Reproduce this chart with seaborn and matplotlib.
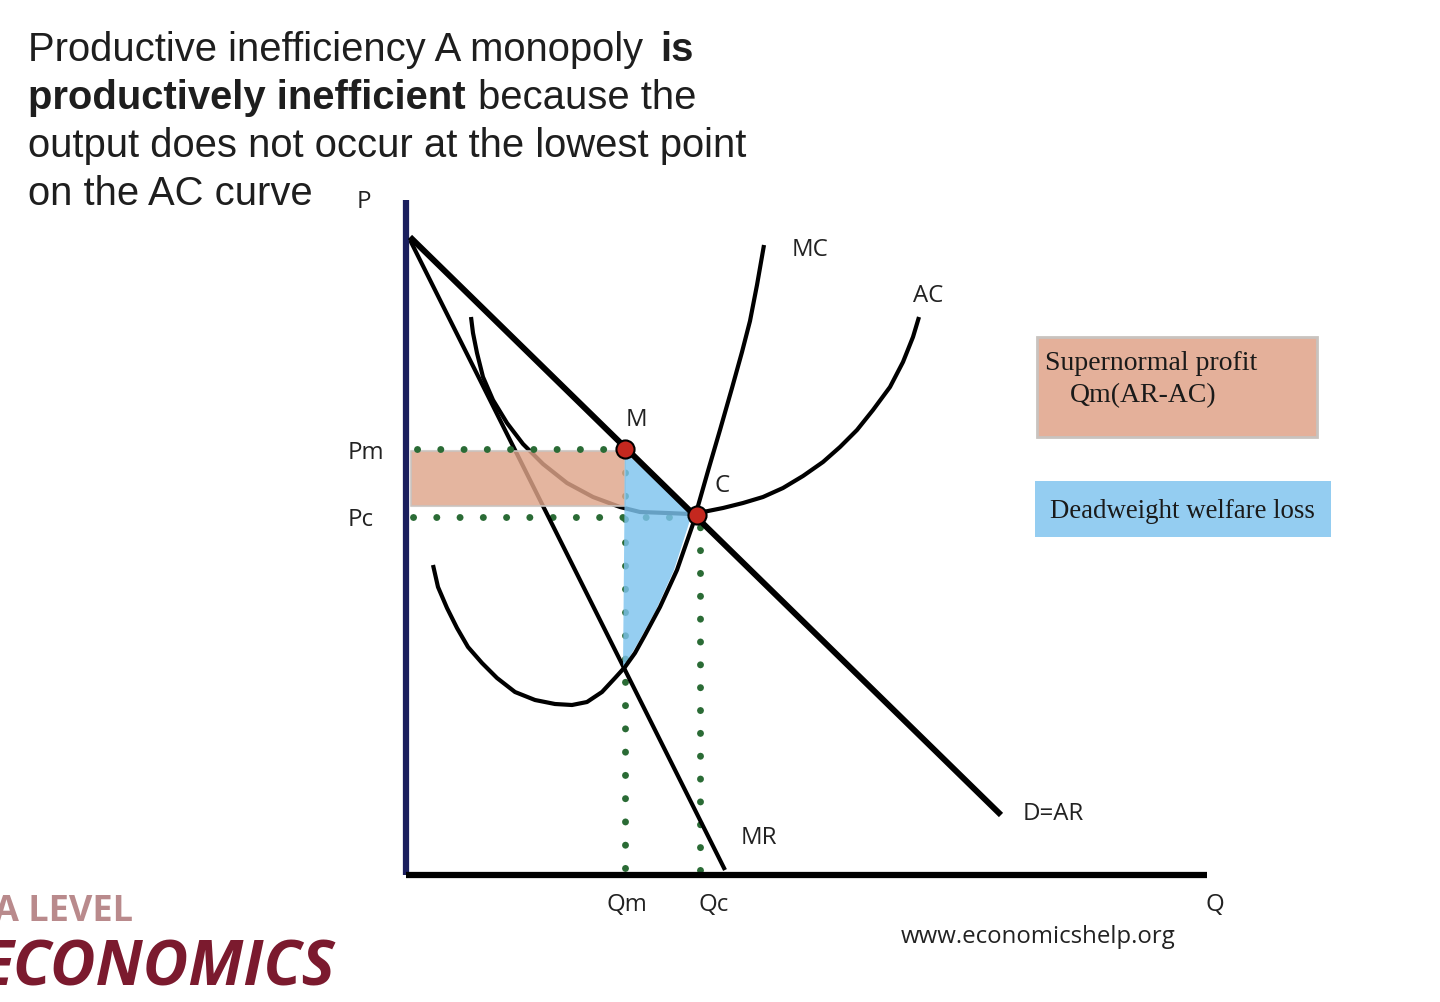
"""Monopoly diagram: productive inefficiency, supernormal profit and welfare loss."""

import matplotlib

matplotlib.use("Agg")
import matplotlib.pyplot as plt
from matplotlib.patches import Rectangle
import seaborn as sns

D_Q = [4, 595]
D_P = [638, 60]
MR_Q = [4, 319]
MR_P = [635, 5]
MC_Q = [27, 32, 41, 51, 62, 76, 91, 109, 129, 149, 166, 181, 196, 209, 219, 229, 239, 254, 271, 287,
        292, 302, 314, 326, 336, 344, 351, 358]
MC_P = [310, 288, 267, 247, 228, 212, 197, 183, 175, 171, 170, 173, 183, 197, 208, 222, 240, 268, 305, 351,
        369, 404, 445, 487, 523, 554, 590, 630]
AC_Q = [65, 67, 71, 77, 87, 101, 117, 137, 161, 187, 214, 234, 261, 284,
        297, 317, 337, 357, 377, 397, 417, 434, 451, 467, 484, 497, 507, 513]
AC_P = [558, 542, 522, 498, 475, 452, 431, 411, 392, 378, 368, 363, 362, 361,
        363, 367, 372, 378, 387, 399, 413, 428, 445, 465, 488, 513, 538, 558]

POINT_Q = [219, 291]
POINT_P = [426, 360]

PROFIT_Q = [5, 219]
PROFIT_P = [369, 424]
LOSS_Q = [219, 286, 268, 250, 232, 217]
LOSS_P = [423, 361, 305, 265, 232, 207]

PM_GUIDE = ([11, 214], [426, 426])
PC_GUIDE = ([7, 285], [358, 358])
QM_GUIDE = ([218.5, 218.5], [7, 426])
QC_GUIDE = ([294, 294], [5, 350])

X_TICKS = [221, 292]
X_LABELS = ["Qm", "Qc"]
Y_TICKS = [425, 358]
Y_LABELS = ["Pm", "Pc"]

WIDTH, HEIGHT = 1440, 1002
AX_LEFT, AX_RIGHT, AX_TOP, AX_BOTTOM = 406, 1207, 200, 875

ORANGE = "#dfa58a"
BLUE = "#7ec4ef"
GREEN = "#2a6b35"
RED = "#c4281f"
NAVY = "#1b1f5e"
WINE = "#7b1a2e"


def draw_curves(ax):
    curves = [(D_Q, D_P, 4.3, 4), (MR_Q, MR_P, 3.0, 2), (MC_Q, MC_P, 3.0, 4), (AC_Q, AC_P, 3.0, 2)]
    for q, p, width, order in curves:
        sns.lineplot(x=q, y=p, ax=ax, color="black", linewidth=width, sort=False, estimator=None,
                     zorder=order, legend=False, solid_joinstyle="round", solid_capstyle="butt")

    # the Pm row sits on top of the orange box, the others under the fills
    guides = [(PM_GUIDE, 3.34, 3.5), (PC_GUIDE, 3.34, 1), (QM_GUIDE, 3.34, 1), (QC_GUIDE, 3.28, 1)]
    for (q, p), gap, order in guides:
        ax.plot(q, p, color=GREEN, linewidth=5, linestyle=(0, (0.01, gap)),
                dash_capstyle="round", zorder=order)

    ax.fill_between(PROFIT_Q, PROFIT_P[0], PROFIT_P[1], facecolor=ORANGE, edgecolor="#c9c3bf",
                    linewidth=1.5, alpha=0.82, zorder=3)
    ax.fill(LOSS_Q, LOSS_P, color=BLUE, alpha=0.82, linewidth=0, zorder=3)

    sns.scatterplot(x=POINT_Q, y=POINT_P, ax=ax, color=RED, edgecolor="black", s=170,
                    linewidth=1.5, zorder=5, legend=False, clip_on=False)


def setup_axes(ax):
    ax.set_xlim(0, AX_RIGHT - AX_LEFT)
    ax.set_ylim(0, AX_BOTTOM - AX_TOP)
    ax.patch.set_alpha(0)
    sns.despine(ax=ax)
    ax.spines["left"].set_color(NAVY)
    ax.spines["left"].set_linewidth(4.5)
    ax.spines["left"].set_capstyle("butt")
    ax.spines["bottom"].set_color("black")
    ax.spines["bottom"].set_linewidth(4.5)
    ax.spines["bottom"].set_capstyle("butt")

    ax.set_xticks(X_TICKS, X_LABELS)
    ax.set_yticks(Y_TICKS, Y_LABELS)
    ax.tick_params(axis="x", length=0, pad=13, labelsize=17.3, labelcolor="#222222")
    ax.tick_params(axis="y", length=0, pad=42, labelsize=17.3, labelcolor="#222222")
    for label in ax.get_yticklabels():
        label.set_ha("left")
    ax.get_xticklabels()[1].set_ha("left")
    ax.set_xlabel("")
    ax.set_ylabel("")


def draw_overlay(fig):
    # texts and key boxes are placed in picture pixels
    over = fig.add_axes([0, 0, 1, 1], zorder=10)
    over.set_xlim(0, WIDTH)
    over.set_ylim(HEIGHT, 0)
    over.axis("off")

    heading = [
        (28, 50, "Productive inefficiency A monopoly", "normal"),
        (660, 50, "is", "bold"),
        (28, 98, "productively inefficient", "bold"),
        (478, 98, "because the", "normal"),
        (28, 146, "output does not occur at the lowest point", "normal"),
        (28, 194, "on the AC curve", "normal"),
    ]
    for x, y, text, weight in heading:
        over.text(x, y, text, family="Liberation Sans", fontsize=28.8, fontweight=weight,
                  color="#1e1e1e", va="center", ha="left")

    labels = [
        (364, 202, "P"), (810, 250, "MC"), (928, 296, "AC"), (636, 420, "M"), (722, 486, "C"),
        (759, 838, "MR"), (1053, 814, "D=AR"), (1215, 905, "Q"), (1038, 937, "www.economicshelp.org"),
    ]
    for x, y, text in labels:
        over.text(x, y, text, family="Open Sans", fontsize=17.3, color="#222222", va="center", ha="center")

    over.add_patch(Rectangle((1037, 337), 280, 100, facecolor="#e4b09a", edgecolor="#c9c3bf", linewidth=2))
    over.add_patch(Rectangle((1035, 481), 296, 56, facecolor="#94cdf1", edgecolor="none"))
    over.text(1045, 363, "Supernormal profit", family="Liberation Serif", fontsize=20, color="#1a1a1a", va="center")
    over.text(1070, 396, "Qm(AR-AC)", family="Liberation Serif", fontsize=20, color="#1a1a1a", va="center")
    over.text(1050, 511, "Deadweight welfare loss", family="Liberation Serif", fontsize=19.4, color="#1a1a1a", va="center")

    # the logo runs off the left edge in the reference too
    over.text(-6, 912, "A LEVEL", family="Open Sans", fontsize=26, fontweight="bold", color="#b98a8c", va="center")
    over.text(-21, 969, "ECONOMICS", family="Open Sans", fontsize=45, fontweight="bold", style="italic",
              color=WINE, va="center")


def main():
    sns.set_theme(style="white")
    fig = plt.figure(figsize=(WIDTH / 100, HEIGHT / 100), dpi=100, facecolor="white")
    ax = fig.add_axes([
        AX_LEFT / WIDTH,
        1 - AX_BOTTOM / HEIGHT,
        (AX_RIGHT - AX_LEFT) / WIDTH,
        (AX_BOTTOM - AX_TOP) / HEIGHT,
    ])
    draw_curves(ax)
    setup_axes(ax)
    for label in ax.get_xticklabels() + ax.get_yticklabels():
        label.set_family("Open Sans")
    draw_overlay(fig)
    fig.savefig("out.png", dpi=100)
    plt.close(fig)


if __name__ == "__main__":
    main()
